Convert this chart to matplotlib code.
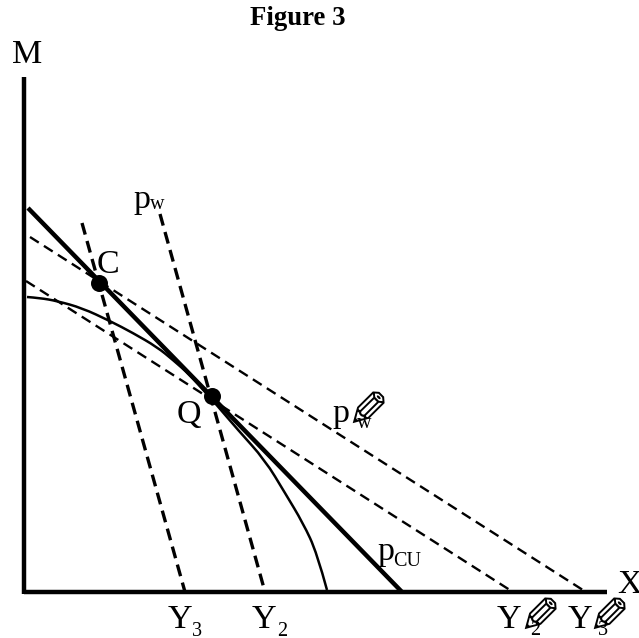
#!/usr/bin/env python3
"""Redraw of the Figure 3 trade diagram (X against M)."""

import matplotlib

matplotlib.use("Agg")
from matplotlib.patches import PathPatch
from matplotlib.path import Path
import matplotlib.pyplot as plt

SERIF = ["Liberation Serif", "DejaVu Serif"]
PENCIL = "\u270e"

# values measured from the axes origin
pcu_x = [4, 378]
pcu_y = [384, 0]
upper_budget_x = [6, 562]
upper_budget_y = [355, 0]
lower_budget_x = [2, 489]
lower_budget_y = [311, 0]
steep_y3_x = [58, 161]
steep_y3_y = [369, 0]
steep_y2_x = [136, 241]
steep_y2_y = [378, 0]
frontier_x = [3, 16, 33, 58, 86, 109, 133, 149, 166, 181, 191, 214, 241, 261, 279, 293, 303]
frontier_y = [295, 294, 291, 284, 271, 259, 245, 232, 217, 200, 189, 162, 132, 99, 69, 39, 2]
point_x = [75, 188]
point_y = [309, 196]
x_axis_end = 583
y_axis_end = 515


def label(ax, x, y, text, size=24.5, **kwargs):
    ax.text(x, y, text, fontsize=size, family=SERIF, ha="left", va="baseline", color="black", **kwargs)


def pencil(ax, x, y):
    ax.text(x, y, PENCIL, fontsize=36, family="DejaVu Sans", rotation=-90,
            rotation_mode="anchor", ha="center", va="center", color="black")


def smooth_path(xs, ys):
    # quadratic segments between midpoints, so the corners of the readings do not show
    points = list(zip(xs, ys))
    verts = [points[0]]
    codes = [Path.MOVETO]
    for i in range(1, len(points) - 1):
        end = points[i + 1] if i == len(points) - 2 else (
            (points[i][0] + points[i + 1][0]) / 2, (points[i][1] + points[i + 1][1]) / 2)
        verts += [points[i], end]
        codes += [Path.CURVE3, Path.CURVE3]
    return Path(verts, codes)


def main():
    fig = plt.figure(figsize=(6.39, 6.38), dpi=100)
    ax = fig.add_axes([0, 0, 1, 1])
    ax.set_xlim(-24, 615)
    ax.set_ylim(-46, 592)
    ax.axis("off")

    thin_dash = (0, (4.4, 2.6))
    wide_dash = (0, (3.6, 2.0))
    ax.plot([0, x_axis_end], [0, 0], color="black", lw=3.2, solid_capstyle="butt")
    ax.plot([0, 0], [-2, y_axis_end], color="black", lw=3.2, solid_capstyle="butt")
    ax.plot(pcu_x, pcu_y, color="black", lw=3.2, solid_capstyle="butt")
    ax.add_patch(PathPatch(smooth_path(frontier_x, frontier_y), facecolor="none", edgecolor="black", lw=1.8))
    ax.plot(upper_budget_x, upper_budget_y, color="black", lw=1.7, ls=thin_dash)
    ax.plot(lower_budget_x, lower_budget_y, color="black", lw=1.7, ls=thin_dash)
    ax.plot(steep_y3_x, steep_y3_y, color="black", lw=2.4, ls=wide_dash)
    ax.plot(steep_y2_x, steep_y2_y, color="black", lw=2.4, ls=wide_dash)
    ax.scatter(point_x, point_y, s=150, color="black", zorder=5, linewidths=0)

    ax.text(274, 567, "Figure 3", fontsize=19.3, family=SERIF, weight="bold", ha="center", va="baseline")
    label(ax, -12, 529, "M")
    label(ax, 593, -1, "X")
    label(ax, 73, 319, "C")
    label(ax, 153, 169, "Q")

    label(ax, 109, 384, "p")
    label(ax, 126, 383, "w", size=14.5)
    label(ax, 308, 170, "p")
    label(ax, 333, 164, "w", size=14.5)
    pencil(ax, 334, 181)
    label(ax, 353, 32, "p")
    label(ax, 369, 26, "CU", size=14.5)

    label(ax, 144, -36, "Y")
    label(ax, 168, -44, "3", size=14.5)
    label(ax, 228, -36, "Y")
    label(ax, 253, -44, "2", size=14.5)
    label(ax, 473, -36, "Y")
    label(ax, 506, -43, "2", size=14.5)
    pencil(ax, 506, -25)
    label(ax, 544, -36, "Y")
    label(ax, 574, -43, "3", size=14.5)
    pencil(ax, 575, -25)

    fig.savefig("out.png", dpi=100)
    plt.close(fig)


if __name__ == "__main__":
    main()
